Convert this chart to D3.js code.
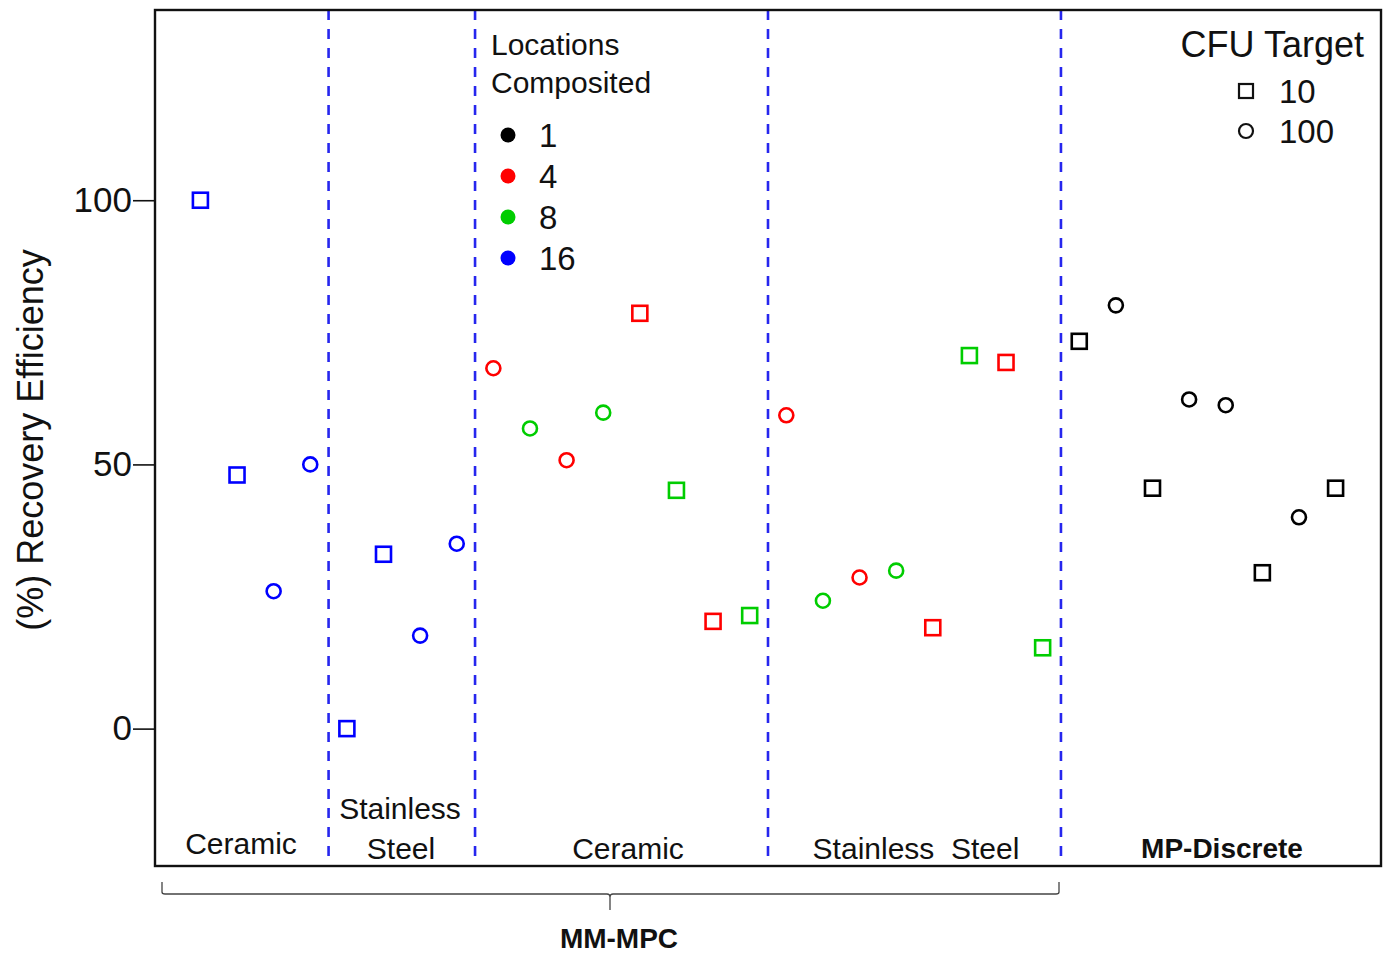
<!DOCTYPE html>
<html><head><meta charset="utf-8">
<script src="https://cdn.jsdelivr.net/npm/d3@7/dist/d3.min.js"></script>
<style>body{margin:0;background:#fff;} text{font-family:"Liberation Sans",Arial,sans-serif;fill:#111;}</style>
</head><body>
<svg id="c" width="1388" height="953"></svg>
<script>
// ---- data ----
const recovery = [100, 48, 26, 50, 0, 33, 17.6, 35,
  68.2, 56.8, 50.8, 59.8, 78.6, 45.1, 20.3, 21.4,
  59.3, 24.2, 28.6, 29.9, 19.1, 70.6, 69.3, 15.3,
  73.3, 80.1, 45.5, 62.3, 61.2, 29.5, 40, 45.5];
const locations = [16,16,16,16,16,16,16,16,
  4,8,4,8,4,8,4,8,
  4,8,4,8,4,8,4,8,
  1,1,1,1,1,1,1,1];
const cfuTarget = [10,10,100,100,10,10,100,100,
  100,100,100,100,10,10,10,10,
  100,100,100,100,10,10,10,10,
  10,100,10,100,100,10,100,10];
const dividers = [4.5, 8.5, 16.5, 24.5];
const yTicks = [0, 50, 100];
const locLevels = [1, 4, 8, 16];
const cfuLevels = [10, 100];
const colorOf = {1: "#000000", 4: "#ff0000", 8: "#00cd00", 16: "#0000ff"};

// ---- layout ----
const svg = d3.select("#c");
const L = 155, R = 1381, T = 10, B = 866;
const x = d3.scaleLinear().domain([-0.24, 33.24]).range([L, R]);
const y = d3.scaleLinear().domain([-26, 136]).range([B, T]);

// dividers
svg.selectAll("line.div").data(dividers).enter().append("line")
  .attr("x1", d => x(d)).attr("x2", d => x(d)).attr("y1", T).attr("y2", B)
  .attr("stroke", "#2626ee").attr("stroke-width", 2.6).attr("stroke-dasharray", "10,9");

// frame
svg.append("rect").attr("x", L).attr("y", T).attr("width", R - L).attr("height", B - T)
  .attr("fill", "none").attr("stroke", "#111").attr("stroke-width", 2.4);

// y axis
const yAxis = d3.axisLeft(y).tickValues(yTicks).tickSize(22).tickPadding(1);
const ga = svg.append("g").attr("transform", `translate(${L},0)`).call(yAxis);
ga.select(".domain").remove();
ga.selectAll("line").attr("stroke", "#111").attr("stroke-width", 1.6);
ga.selectAll("text").attr("font-size", 35).attr("font-family", "Liberation Sans, Arial, sans-serif").attr("fill", "#111");

svg.append("text").attr("transform", "translate(30,440) rotate(-90)")
  .attr("text-anchor", "middle").attr("dy", "0.35em").attr("font-size", 36)
  .text("(%) Recovery Efficiency");

// points
const pts = recovery.map((v, i) => ({i: i + 1, v, loc: locations[i], cfu: cfuTarget[i]}));
const sq = 15, cr = 7;
svg.selectAll("rect.pt").data(pts.filter(d => d.cfu === 10)).enter().append("rect")
  .attr("x", d => x(d.i) - sq / 2).attr("y", d => y(d.v) - sq / 2)
  .attr("width", sq).attr("height", sq).attr("fill", "none")
  .attr("stroke", d => colorOf[d.loc]).attr("stroke-width", 2.6);
svg.selectAll("circle.pt").data(pts.filter(d => d.cfu === 100)).enter().append("circle")
  .attr("cx", d => x(d.i)).attr("cy", d => y(d.v)).attr("r", cr).attr("fill", "none")
  .attr("stroke", d => colorOf[d.loc]).attr("stroke-width", 2.6);

// category labels
const cat = [
  {t: "Ceramic", cx: 241, cy: 843},
  {t: "Stainless", cx: 400, cy: 808},
  {t: "Steel", cx: 401, cy: 848},
  {t: "Ceramic", cx: 628, cy: 848},
  {t: "Stainless  Steel", cx: 916, cy: 848}
];
svg.selectAll("text.cat").data(cat).enter().append("text")
  .attr("x", d => d.cx).attr("y", d => d.cy).attr("dy", "0.36em")
  .attr("text-anchor", "middle").attr("font-size", 30).style("white-space", "pre").text(d => d.t);
svg.append("text").attr("x", 1222).attr("y", 848).attr("dy", "0.36em").attr("text-anchor", "middle")
  .attr("font-size", 28).attr("font-weight", "bold").text("MP-Discrete");

// bracket
const bx0 = 162, bx1 = 1059, by = 894, bm = 610;
svg.append("path")
  .attr("d", `M${bx0},${by - 12} L${bx0},${by - 2} Q${bx0},${by} ${bx0 + 3},${by} L${bm - 3},${by} Q${bm},${by} ${bm},${by + 3} L${bm},${by + 16} M${bm},${by + 3} Q${bm},${by} ${bm + 3},${by} L${bx1 - 3},${by} Q${bx1},${by} ${bx1},${by - 2} L${bx1},${by - 12}`)
  .attr("fill", "none").attr("stroke", "#444").attr("stroke-width", 1.3);
svg.append("text").attr("x", 619).attr("y", 938).attr("dy", "0.36em").attr("text-anchor", "middle")
  .attr("font-size", 28).attr("font-weight", "bold").text("MM-MPC");

// legend 1
svg.append("text").attr("x", 491).attr("y", 44).attr("dy", "0.36em").attr("font-size", 30).text("Locations");
svg.append("text").attr("x", 491).attr("y", 82).attr("dy", "0.36em").attr("font-size", 30).text("Composited");
const lg1 = svg.selectAll("g.l1").data(locLevels).enter().append("g")
  .attr("transform", (d, i) => `translate(508,${135 + i * 41})`);
lg1.append("circle").attr("r", 7.5).attr("fill", d => colorOf[d]);
lg1.append("text").attr("x", 31).attr("dy", "0.36em").attr("font-size", 33).text(d => d);

// legend 2
svg.append("text").attr("x", 1364).attr("y", 44).attr("dy", "0.36em").attr("text-anchor", "end")
  .attr("font-size", 36).text("CFU Target");
const lg2 = svg.selectAll("g.l2").data(cfuLevels).enter().append("g")
  .attr("transform", (d, i) => `translate(1246,${91 + i * 40})`);
lg2.filter(d => d === 10).append("rect").attr("x", -7).attr("y", -7).attr("width", 14).attr("height", 14)
  .attr("fill", "none").attr("stroke", "#111").attr("stroke-width", 2.2);
lg2.filter(d => d === 100).append("circle").attr("r", 7).attr("fill", "none")
  .attr("stroke", "#111").attr("stroke-width", 2.2);
lg2.append("text").attr("x", 33).attr("dy", "0.36em").attr("font-size", 33).text(d => d);
</script>
</body></html>
